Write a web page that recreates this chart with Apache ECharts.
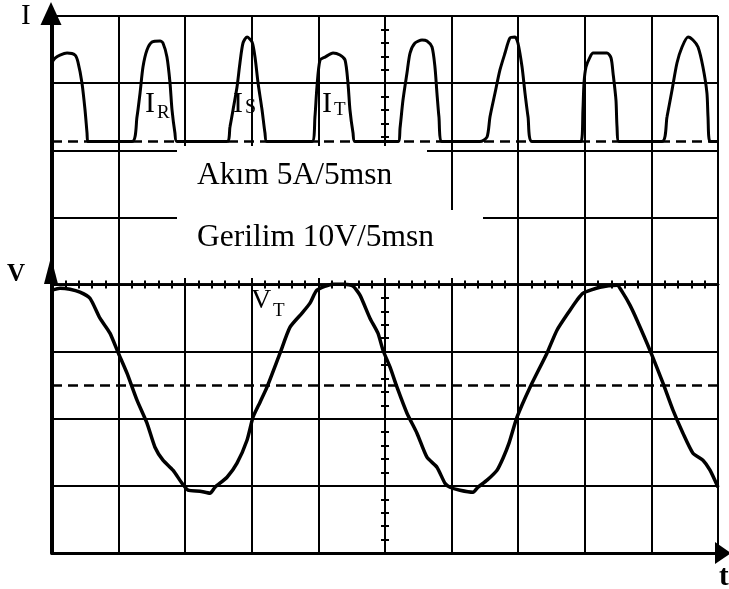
<!DOCTYPE html>
<html>
<head>
<meta charset="utf-8">
<script src="https://cdn.jsdelivr.net/npm/echarts@6/dist/echarts.min.js"></script>
<style>html,body{margin:0;padding:0;background:#fff}#c{width:729px;height:589px}</style>
</head>
<body>
<div id="c"></div>
<script>
// ---- data (time in ms, 5 ms/div) ----
const currentTimeMs = [
  0, 0.23, 0.60, 1.13, 1.73, 1.95, 2.25, 2.48, 2.63, 2.70,
  6.01, 6.38, 6.61, 6.83, 7.13, 7.51, 8.11, 8.33, 8.63, 8.86, 9.01, 9.23, 9.38,
  13.14, 13.36, 13.59, 13.89, 14.11, 14.34, 14.64, 15.02, 15.24, 15.47, 15.77, 15.99, 16.14,
  19.52, 19.74, 19.89, 20.12, 20.50, 21.10, 21.62, 22.00, 22.22, 22.37, 22.60, 22.75,
  25.98, 26.13, 26.35, 26.65, 26.88, 27.25, 27.78, 28.15, 28.53, 28.75, 28.90, 29.05, 29.28,
  32.13, 32.66, 32.88, 33.26, 33.63, 34.01, 34.38, 34.76, 34.98, 35.29, 35.51, 35.74, 36.04,
  39.71, 39.86, 39.94, 40.09, 40.39, 40.62, 41.67, 41.97, 42.12, 42.34, 42.42, 42.57,
  45.80, 46.17, 46.55, 46.92, 47.30, 47.75, 48.12, 48.50, 48.87, 49.17, 49.25, 49.40, 50.00
];
const currentAmps = [
  5.92, 6.22, 6.44, 6.59, 6.44, 5.92, 4.36, 2.35, 0.63, 0,
  0, 1.83, 3.61, 5.55, 6.82, 7.41, 7.49, 7.34, 6.29, 4.36, 2.35, 0.63, 0,
  0, 1.08, 2.35, 4.06, 5.85, 7.34, 7.78, 7.41, 6.29, 4.36, 2.35, 0.63, 0,
  0, 1.83, 4.06, 6.07, 6.29, 6.59, 6.44, 6.07, 4.36, 2.35, 0.63, 0,
  0, 1.01, 3.09, 5.10, 6.59, 7.34, 7.56, 7.49, 7.04, 5.55, 3.61, 1.83, 0,
  0, 0.34, 1.83, 3.61, 5.33, 6.59, 7.71, 7.78, 7.34, 5.55, 3.61, 1.83, 0,
  0, 2.35, 4.36, 5.55, 6.29, 6.59, 6.59, 6.22, 5.10, 3.09, 1.08, 0,
  0, 1.83, 3.84, 5.85, 7.04, 7.78, 7.56, 7.04, 5.55, 3.61, 1.83, 0, 0
];
const voltageTimeMs = [
  0, 0.60, 1.35, 2.10, 2.85, 3.60, 4.35, 4.95, 5.63, 6.38, 7.13, 7.73, 8.33, 9.08, 9.76,
  10.21, 11.11, 11.86, 12.24, 13.14, 13.89, 14.64, 15.09, 15.62, 16.14, 17.12, 17.87,
  18.77, 19.37, 19.89, 21.10, 22.00, 22.60, 23.12, 23.87, 24.47, 24.85, 25.38, 25.90,
  26.65, 27.40, 28.15, 28.90, 29.50, 29.88, 30.63, 31.61, 31.98, 32.66, 33.41, 33.86,
  34.31, 34.91, 35.89, 37.16, 37.91, 38.89, 39.41, 39.86, 41.14, 42.42, 42.87, 43.39,
  43.92, 44.89, 45.87, 46.62, 47.37, 48.12, 48.87, 49.40, 50.00
];
const voltageVolts = [
  14.15, 14.45, 14.30, 13.86, 12.96, 9.98, 7.75, 4.92, 1.79, -2.23, -5.66, -9.24, -11.17, -12.66, -14.60,
  -15.64, -15.79, -16.09, -15.20, -13.71, -11.62, -8.20, -4.77, -2.53, -0.30, 4.77, 8.64,
  10.73, 12.22, 14.15, 15.05, 15.05, 14.75, 13.41, 9.98, 7.75, 5.21, 2.68, -0.30,
  -4.17, -7.15, -10.73, -12.22, -14.60, -15.20, -15.64, -15.94, -15.20, -14.15, -12.66, -10.88,
  -8.64, -4.77, -0.30, 4.77, 8.19, 11.17, 12.66, 13.71, 14.60, 14.90, 13.71, 11.92,
  9.68, 5.21, 0.30, -3.72, -7.15, -10.13, -11.17, -12.66, -15.20
];
const axisNames = ['I', 'V', 't'];
const traceLabels = [['I', 'R'], ['I', 'S'], ['I', 'T'], ['V', 'T']];
const scaleTexts = ['Akım 5A/5msn', 'Gerilim 10V/5msn'];

// ---- chart ----
const INK = '#000';
const SERIF = '"Liberation Serif", "Times New Roman", serif';
const chart = echarts.init(document.getElementById('c'));
const pairs = (a, b) => a.map((v, i) => [v, b[i]]);

function tickAxis(inside) {
  return {
    gridIndex: 0, type: 'value', min: -4, max: 4, interval: 1, position: 'left',
    axisLine: {show: true, onZero: true, onZeroAxisIndex: 3, lineStyle: {color: INK, width: 2}},
    axisTick: {show: true, inside: inside, length: 4, lineStyle: {color: INK, width: 2}},
    minorTick: {show: true, splitNumber: 5, length: 4, lineStyle: {color: INK, width: 2}},
    axisLabel: {show: false}, splitLine: {show: false}
  };
}
function hTickAxis(inside) {
  return {
    gridIndex: 0, type: 'value', min: 0, max: 50, interval: 5, position: 'bottom', z: 5,
    axisLine: {show: true, onZero: true, onZeroAxisIndex: 0, lineStyle: {color: INK, width: 2.5}},
    axisTick: {show: true, inside: inside, length: 4, lineStyle: {color: INK, width: 2}},
    minorTick: {show: true, splitNumber: 5, length: 4, lineStyle: {color: INK, width: 2}},
    axisLabel: {show: false}, splitLine: {show: false}
  };
}
function txt(text, x, y, size, weight) {
  return {type: 'text', z: 20, style: {text: text, x: x, y: y, fill: INK,
    fontFamily: SERIF, fontSize: size, fontWeight: weight || 'normal',
    verticalAlign: 'middle', align: 'left'}};
}
function arrow(points) {
  return {type: 'polygon', z: 20, shape: {points: points}, style: {fill: INK}};
}

const option = {
  animation: false,
  backgroundColor: '#fff',
  grid: {left: 52, right: 11, top: 16, bottom: 36},
  xAxis: [
    {gridIndex: 0, type: 'value', min: 0, max: 50, interval: 5, position: 'bottom',
      axisLine: {show: true, onZero: false, lineStyle: {color: INK, width: 3}},
      axisTick: {show: false}, axisLabel: {show: false},
      splitLine: {show: true, lineStyle: {color: INK, width: 2}}},
    hTickAxis(false),
    hTickAxis(true),
    {gridIndex: 0, type: 'value', min: -5, max: 5, show: false}
  ],
  yAxis: [
    {gridIndex: 0, type: 'value', min: -4, max: 4, interval: 1, position: 'left',
      axisLine: {show: true, onZero: false, lineStyle: {color: INK, width: 4}},
      axisTick: {show: false}, axisLabel: {show: false},
      splitLine: {show: true, lineStyle: {color: INK, width: 2}}},
    {gridIndex: 0, type: 'value', min: -30.65, max: 9.35, show: false},
    {gridIndex: 0, type: 'value', min: -25, max: 55, show: false},
    tickAxis(false),
    tickAxis(true)
  ],
  series: [
    {type: 'line', name: 'I', xAxisIndex: 0, yAxisIndex: 1, data: pairs(currentTimeMs, currentAmps),
      showSymbol: false, symbol: 'none', smooth: 0.25, z: 6,
      lineStyle: {color: INK, width: 3},
      markLine: {silent: true, symbol: 'none', label: {show: false},
        lineStyle: {color: INK, type: [10, 6], width: 2.5}, data: [{yAxis: 0}]}},
    {type: 'line', name: 'V', xAxisIndex: 0, yAxisIndex: 2, data: pairs(voltageTimeMs, voltageVolts),
      showSymbol: false, symbol: 'none', smooth: 0.2, z: 6,
      lineStyle: {color: INK, width: 3.5},
      markLine: {silent: true, symbol: 'none', label: {show: false},
        lineStyle: {color: INK, type: [10, 6], width: 2.5}, data: [{yAxis: 0}]}}
  ],
  graphic: {elements: [
    {type: 'rect', z: 1, shape: {x: 177, y: 146, width: 250, height: 132}, style: {fill: '#fff'}},
    {type: 'rect', z: 1, shape: {x: 427, y: 210, width: 56, height: 68}, style: {fill: '#fff'}},
    arrow([[51, 2], [40.5, 25], [61.5, 25]]),
    arrow([[51, 257], [44, 284], [58, 284]]),
    arrow([[731, 553], [715, 542], [715, 564]]),
    txt(axisNames[0], 21, 16, 29),
    txt(axisNames[1], 7, 275, 25, 'bold'),
    txt(axisNames[2], 719, 578, 29, 'bold'),
    txt(traceLabels[0][0], 145, 104, 30), txt(traceLabels[0][1], 157, 113, 19),
    txt(traceLabels[1][0], 233, 104, 30), txt(traceLabels[1][1], 245, 108, 20),
    txt(traceLabels[2][0], 322, 104, 30), txt(traceLabels[2][1], 334, 110, 19),
    txt(traceLabels[3][0], 251, 301, 28), txt(traceLabels[3][1], 273, 311, 19),
    txt(scaleTexts[0], 197, 176, 31.5),
    txt(scaleTexts[1], 197, 238, 31.5)
  ]}
};
chart.setOption(option);
</script>
</body>
</html>
